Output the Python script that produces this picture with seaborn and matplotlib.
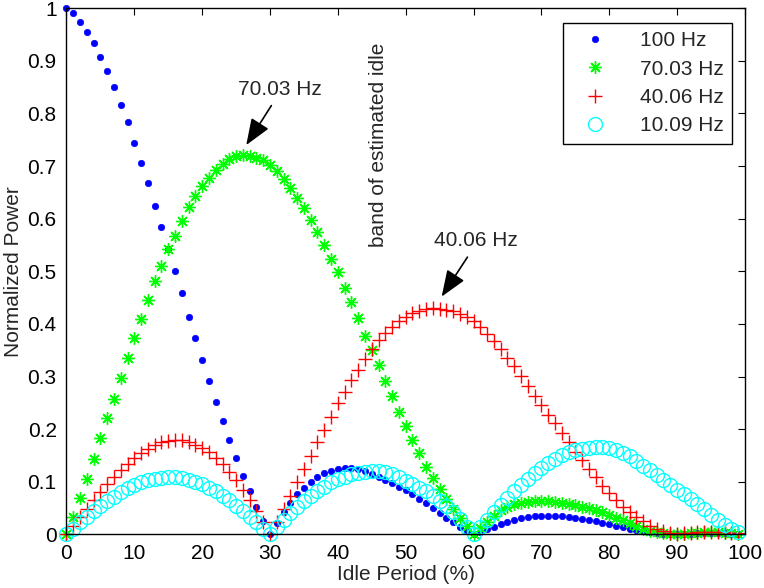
import numpy as np
import pandas as pd
import seaborn as sns
import matplotlib.pyplot as plt

# idle period (%) sampled every 1 %
idle_pct = list(range(100))

p_100hz = [1.000, 0.991, 0.973, 0.955, 0.934, 0.907, 0.881, 0.851, 0.816, 0.783,
           0.744, 0.705, 0.667, 0.625, 0.584, 0.542, 0.501, 0.459, 0.414, 0.373,
           0.331, 0.292, 0.252, 0.215, 0.180, 0.145, 0.112, 0.082, 0.052, 0.025,
           0.000, 0.022, 0.043, 0.060, 0.076, 0.089, 0.100, 0.109, 0.116, 0.121,
           0.124, 0.126, 0.126, 0.124, 0.120, 0.115, 0.109, 0.103, 0.097, 0.091,
           0.084, 0.076, 0.068, 0.059, 0.050, 0.041, 0.032, 0.023, 0.015, 0.007,
           0.000, 0.005, 0.010, 0.015, 0.020, 0.024, 0.028, 0.031, 0.033, 0.035,
           0.035, 0.036, 0.035, 0.035, 0.034, 0.032, 0.030, 0.027, 0.025, 0.022,
           0.019, 0.016, 0.014, 0.011, 0.009, 0.006, 0.004, 0.003, 0.001, 0.000,
           0.000, 0.001, 0.001, 0.002, 0.002, 0.002, 0.002, 0.002, 0.001, 0.001]

p_70hz = [0.000, 0.034, 0.070, 0.106, 0.144, 0.183, 0.222, 0.258, 0.298, 0.335,
          0.373, 0.409, 0.445, 0.481, 0.511, 0.542, 0.568, 0.596, 0.622, 0.644,
          0.662, 0.678, 0.693, 0.704, 0.713, 0.719, 0.722, 0.720, 0.716, 0.711,
          0.702, 0.691, 0.676, 0.658, 0.640, 0.620, 0.598, 0.575, 0.551, 0.524,
          0.498, 0.468, 0.442, 0.412, 0.378, 0.351, 0.322, 0.292, 0.263, 0.233,
          0.207, 0.179, 0.155, 0.129, 0.107, 0.086, 0.067, 0.048, 0.032, 0.016,
          0.000, 0.012, 0.024, 0.036, 0.046, 0.052, 0.057, 0.060, 0.062, 0.063,
          0.063, 0.063, 0.062, 0.060, 0.058, 0.056, 0.053, 0.050, 0.047, 0.042,
          0.037, 0.032, 0.027, 0.021, 0.016, 0.011, 0.007, 0.004, 0.002, 0.001,
          0.000, 0.001, 0.002, 0.003, 0.004, 0.004, 0.004, 0.003, 0.002, 0.001]

p_40hz = [0.000, 0.016, 0.033, 0.049, 0.065, 0.081, 0.095, 0.109, 0.122, 0.134,
          0.145, 0.155, 0.163, 0.170, 0.175, 0.178, 0.180, 0.179, 0.176, 0.171,
          0.165, 0.157, 0.146, 0.133, 0.119, 0.103, 0.085, 0.066, 0.045, 0.023,
          0.000, 0.024, 0.049, 0.074, 0.099, 0.124, 0.149, 0.175, 0.199, 0.224,
          0.249, 0.271, 0.293, 0.313, 0.334, 0.352, 0.369, 0.382, 0.394, 0.406,
          0.414, 0.420, 0.425, 0.428, 0.430, 0.429, 0.427, 0.424, 0.419, 0.413,
          0.405, 0.394, 0.381, 0.367, 0.352, 0.336, 0.320, 0.302, 0.283, 0.264,
          0.246, 0.228, 0.211, 0.193, 0.176, 0.157, 0.141, 0.125, 0.109, 0.093,
          0.078, 0.065, 0.053, 0.042, 0.033, 0.025, 0.017, 0.011, 0.006, 0.002,
          0.000, 0.002, 0.003, 0.004, 0.005, 0.005, 0.005, 0.004, 0.003, 0.002]

p_10hz = [0.000, 0.011, 0.023, 0.034, 0.044, 0.055, 0.064, 0.072, 0.081, 0.088,
          0.094, 0.099, 0.103, 0.106, 0.108, 0.109, 0.109, 0.107, 0.104, 0.100,
          0.095, 0.089, 0.082, 0.074, 0.065, 0.055, 0.045, 0.034, 0.023, 0.011,
          0.000, 0.014, 0.028, 0.040, 0.052, 0.063, 0.073, 0.082, 0.091, 0.099,
          0.106, 0.110, 0.114, 0.117, 0.119, 0.120, 0.120, 0.118, 0.114, 0.109,
          0.102, 0.096, 0.089, 0.082, 0.074, 0.064, 0.054, 0.042, 0.030, 0.015,
          0.000, 0.014, 0.028, 0.042, 0.056, 0.069, 0.082, 0.094, 0.106, 0.117,
          0.127, 0.136, 0.144, 0.151, 0.156, 0.160, 0.163, 0.165, 0.166, 0.166,
          0.164, 0.160, 0.155, 0.149, 0.140, 0.130, 0.122, 0.113, 0.104, 0.094,
          0.085, 0.076, 0.068, 0.058, 0.048, 0.037, 0.027, 0.018, 0.010, 0.004]

series_labels = ['100 Hz', '70.03 Hz', '40.06 Hz', '10.09 Hz']

sns.set_style('white')
plt.rcParams['font.family'] = ['Liberation Sans', 'DejaVu Sans']
FS = 15

fig = plt.figure(figsize=(7.64, 5.88), dpi=100)
ax = fig.add_axes([0.087, 0.091, 0.888, 0.895])

styles = [
    dict(marker='o', ms=4.6, mfc='blue', mec='blue', mew=0.5),
    dict(marker=(8, 2, 0), ms=9, mfc='none', mec='#00ff00', mew=1.0),
    dict(marker='+', ms=10, mfc='none', mec='red', mew=1.0),
    dict(marker='o', ms=10, mfc='none', mec='cyan', mew=1.0),
]
colors = ['blue', '#00ff00', 'red', 'cyan']

for vals, lab, st, col in zip([p_100hz, p_70hz, p_40hz, p_10hz], series_labels, styles, colors):
    df = pd.DataFrame({'idle': idle_pct, 'power': vals})
    sns.lineplot(data=df, x='idle', y='power', ax=ax, color=col, linestyle='',
                 label=lab, clip_on=False,
                 marker=st['marker'], markersize=st['ms'],
                 markerfacecolor=st['mfc'], markeredgecolor=st['mec'],
                 markeredgewidth=st['mew'])

ax.set_xlim(0, 100)
ax.set_ylim(0, 1)
ax.set_xticks(np.arange(0, 101, 10))
ax.set_yticks(np.arange(0, 1.01, 0.1))
ax.set_yticklabels([f'{v:g}' for v in np.round(np.arange(0, 1.01, 0.1), 1)])
ax.tick_params(direction='in', top=True, right=True, length=5, width=0.8,
               labelsize=FS, colors='black', pad=7)
for sp in ax.spines.values():
    sp.set_color('black')
    sp.set_linewidth(1.0)

ax.set_xlabel('Idle Period (%)', fontsize=FS, labelpad=1)
ax.set_ylabel('Normalized Power', fontsize=FS, labelpad=3)

# annotations
arrow = dict(arrowstyle='-|>,head_length=0.9,head_width=0.35', color='black',
             lw=1.2, mutation_scale=18, shrinkA=0, shrinkB=0)
ax.text(31.5, 0.845, '70.03 Hz', fontsize=FS, ha='center', va='center')
ax.annotate('', xy=(26.5, 0.74), xytext=(30.2, 0.815), arrowprops=arrow)
ax.text(60.4, 0.559, '40.06 Hz', fontsize=FS, ha='center', va='center')
ax.annotate('', xy=(55.3, 0.452), xytext=(59.1, 0.527), arrowprops=arrow)
ax.text(46.0, 0.74, 'band of estimated idle', fontsize=FS, rotation=90,
        ha='center', va='center')

leg = ax.legend(loc='upper right', fontsize=FS, frameon=True, fancybox=False,
                edgecolor='black', framealpha=1, handlelength=2.2,
                handletextpad=1.1, borderpad=0.4, labelspacing=0.45,
                bbox_to_anchor=(0.997, 0.992))
leg.get_frame().set_linewidth(1.0)

fig.savefig('out.png', dpi=100)
